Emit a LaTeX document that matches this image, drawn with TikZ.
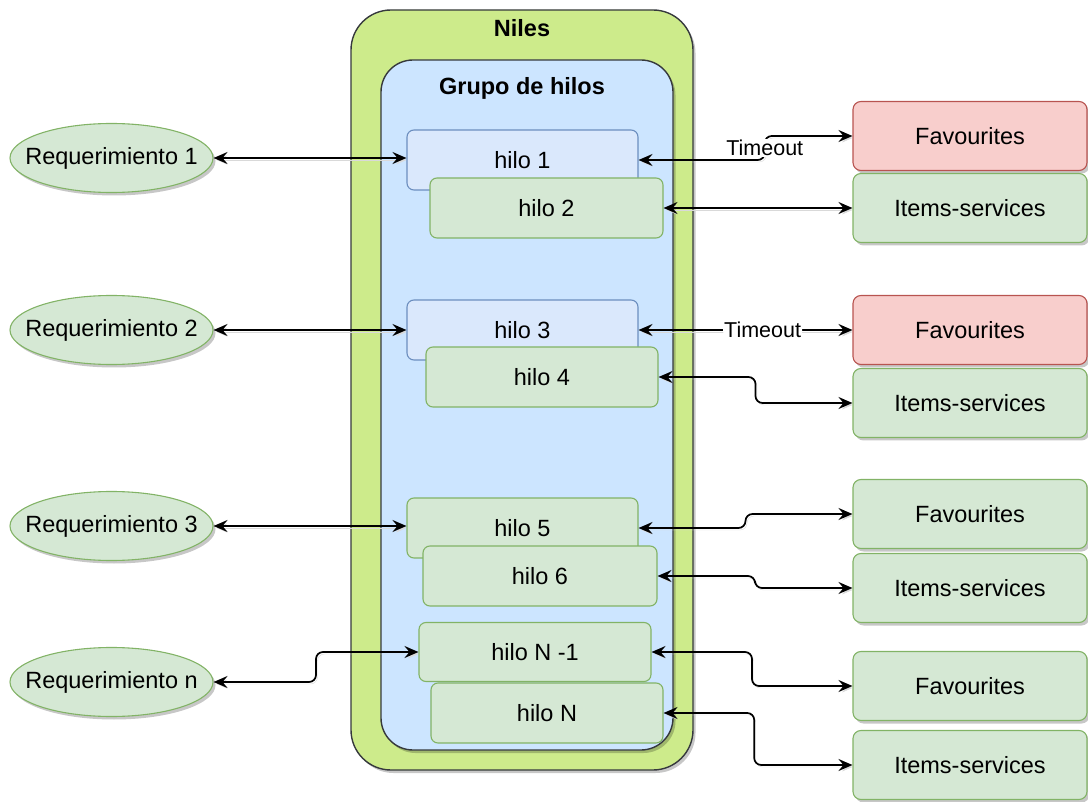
\documentclass[tikz,border=0pt]{standalone}
\usepackage{fontspec}
\setmainfont{Liberation Sans}
\usetikzlibrary{shapes.geometric,arrows.meta,shadows,calc}

\definecolor{nilesfill}{HTML}{CDEB8B}
\definecolor{poolfill}{HTML}{CCE5FF}
\definecolor{darkline}{HTML}{36393D}
\definecolor{bluefill}{HTML}{DAE8FC}
\definecolor{blueline}{HTML}{6C8EBF}
\definecolor{greenfill}{HTML}{D5E8D4}
\definecolor{greenline}{HTML}{82B366}
\definecolor{redfill}{HTML}{F8CECC}
\definecolor{redline}{HTML}{B85450}

\begin{document}
\begin{tikzpicture}[x=1pt,y=-1pt,
  font=\fontsize{23.5}{28}\selectfont,
  boxshadow/.style={drop shadow={shadow xshift=2.5pt,shadow yshift=-3pt,fill=black,opacity=0.22}},
  container/.style={draw=darkline,line width=1.4pt,inner sep=0pt,boxshadow},
  titletext/.style={font=\fontsize{23.5}{28}\selectfont\bfseries,inner sep=0pt},
  thread/.style={rounded corners=7pt,line width=1.1pt,minimum width=231pt,minimum height=60pt,inner sep=0pt},
  bluethread/.style={thread,draw=blueline,fill=bluefill},
  greenthread/.style={thread,draw=greenline,fill=greenfill},
  request/.style={ellipse,draw=greenline,fill=greenfill,line width=1.1pt,minimum width=203pt,minimum height=69pt,inner sep=0pt,boxshadow},
  service/.style={rounded corners=8pt,line width=1.1pt,minimum width=234pt,minimum height=69pt,inner sep=0pt,boxshadow},
  failed/.style={service,draw=redline,fill=redfill},
  healthy/.style={service,draw=greenline,fill=greenfill},
  link/.style={<->,>={Stealth[length=14pt,width=12pt,inset=5pt]},line width=1.7pt,draw=black,rounded corners=7pt,
    preaction={draw=black!15,transform canvas={shift={(1.5pt,-2pt)}}}},
  lbl/.style={fill=white,inner sep=1pt,font=\fontsize{21.5}{25}\selectfont}
]
\useasboundingbox (0,0) rectangle (1088,802);

% service container and thread pool
\node[container,fill=nilesfill,rounded corners=40pt,minimum width=342pt,minimum height=760pt] (niles) at (522,390) {};
\node[titletext] (nilestitle) at (522,28) {Niles};
\node[container,fill=poolfill,rounded corners=32pt,minimum width=292pt,minimum height=690pt] (pool) at (527,405) {};
\node[titletext] (pooltitle) at (522,88) {Grupo de hilos};

% threads
\node[bluethread] (h1) at (522.5,160) {hilo 1};
\node[greenthread,minimum width=233pt] (h2) at (546.5,208) {hilo 2};
\node[bluethread] (h3) at (522.5,330) {hilo 3};
\node[greenthread,minimum width=232pt] (h4) at (542,377) {hilo 4};
\node[greenthread] (h5) at (522.5,528) {hilo 5};
\node[greenthread,minimum width=234pt] (h6) at (540,576) {hilo 6};
\node[greenthread,minimum width=232pt,minimum height=59pt] (h7) at (535,652) {hilo N -1};
\node[greenthread,minimum width=232pt] (h8) at (547,713) {hilo N};

% incoming requests (text kept out of the ellipse size)
\node[request] (r1) at (111.5,158) {\makebox[0pt]{Requerimiento 1}};
\node[request] (r2) at (111.5,330) {\makebox[0pt]{Requerimiento 2}};
\node[request] (r3) at (111.5,526) {\makebox[0pt]{Requerimiento 3}};
\node[request] (rn) at (111.5,682) {\makebox[0pt]{Requerimiento n}};

% downstream services
\node[failed]  (f1) at (970,136) {Favourites};
\node[healthy] (s1) at (970,208) {Items-services};
\node[failed]  (f2) at (970,330) {Favourites};
\node[healthy] (s2) at (970,403) {Items-services};
\node[healthy] (f3) at (970,514) {Favourites};
\node[healthy] (s3) at (970,588) {Items-services};
\node[healthy] (f4) at (970,686) {Favourites};
\node[healthy] (s4) at (970,765) {Items-services};

% bend columns of the stepped connectors
\coordinate (mn) at ($(rn.east)!0.5!(h7.west)$);
\coordinate (m1) at ($(h1.east)!0.59!(f1.west)$);
\coordinate (m4) at ($(h4.east)!0.5!(s2.west)$);
\coordinate (m5) at ($(h5.east)!0.5!(f3.west)$);
\coordinate (m6) at ($(h6.east)!0.5!(s3.west)$);
\coordinate (m7) at ($(h7.east)!0.5!(f4.west)$);
\coordinate (m8) at ($(h8.east)!0.48!(s4.west)$);

% requests to threads
\draw[link] (r1.east) -- (r1.east -| h1.west);
\draw[link] (r2.east) -- (r2.east -| h3.west);
\draw[link] (r3.east) -- (r3.east -| h5.west);
\draw[link] (rn.east) -- (mn |- rn.east) -- (mn |- h7.west) -- (h7.west);

% threads to services
\draw[link] (h1.east) -- (m1 |- h1.east) -- node[lbl] {Timeout} (m1 |- f1.west) -- (f1.west);
\draw[link] (h2.east) -- (h2.east -| s1.west);
\draw[link] (h3.east) -- node[lbl,pos=0.58] {Timeout} (h3.east -| f2.west);
\draw[link] (h4.east) -- (m4 |- h4.east) -- (m4 |- s2.west) -- (s2.west);
\draw[link] (h5.east) -- (m5 |- h5.east) -- (m5 |- f3.west) -- (f3.west);
\draw[link] (h6.east) -- (m6 |- h6.east) -- (m6 |- s3.west) -- (s3.west);
\draw[link] (h7.east) -- (m7 |- h7.east) -- (m7 |- f4.west) -- (f4.west);
\draw[link] (h8.east) -- (m8 |- h8.east) -- (m8 |- s4.west) -- (s4.west);
\end{tikzpicture}
\end{document}
